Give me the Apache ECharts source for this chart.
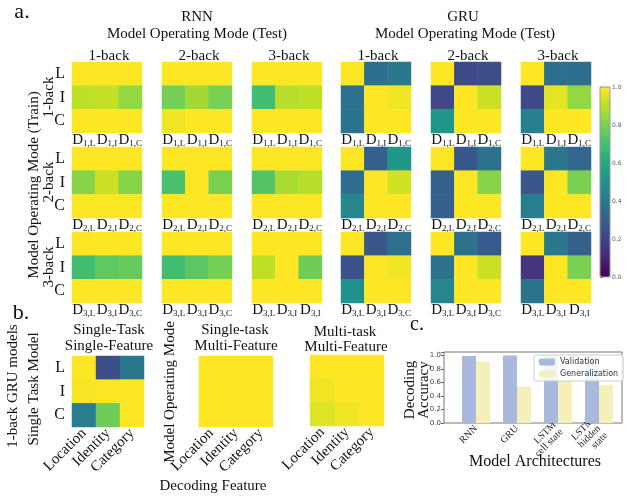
<!DOCTYPE html>
<html>
<head>
<meta charset="utf-8">
<script src="https://cdn.jsdelivr.net/npm/echarts@6/dist/echarts.min.js"></script>
<style>
    html, body { margin: 0; padding: 0; background: #fff; }
    #chart { width: 641px; height: 496px; }
</style>
</head>
<body>
<div id="chart"></div>
<script>
// row / column names
const rowNames = ['L', 'I', 'C']
const featureNames = ['Location', 'Identity', 'Category']
const modeNames = ['1-back', '2-back', '3-back']
const dTicks = [
    ['1,L', '1,I', '1,C'],
    ['2,L', '2,I', '2,C'],
    ['3,L', '3,I', '3,C']
]
const dTicks3Last = ['3,L', '3,I', '3,I'] // as printed in the figure

// RNN decoding accuracy, one list per train mode, each holds the 3 test modes (rows L, I, C)
const rnnTrain1 = [
    [[1, 1, 1], [0.9, 0.91, 0.84], [1, 1, 1]],
    [[1, 1, 1], [0.79, 0.86, 0.8], [0.98, 1, 1]],
    [[1, 1, 1], [0.69, 0.89, 0.9], [1, 1, 1]]
]
const rnnTrain2 = [
    [[1, 1, 1], [0.82, 0.92, 0.82], [1, 1, 1]],
    [[1, 1, 1], [0.71, 1, 0.8], [1, 1, 1]],
    [[1, 1, 1], [0.73, 0.87, 0.89], [1, 1, 1]]
]
const rnnTrain3 = [
    [[1, 1, 1], [0.69, 0.75, 0.76], [1, 1, 1]],
    [[1, 1, 1], [0.69, 0.74, 0.79], [1, 1, 1]],
    [[1, 1, 1], [0.9, 1, 0.78], [1, 1, 1]]
]
// GRU decoding accuracy
const gruTrain1 = [
    [[1, 0.36, 0.4], [0.37, 1, 0.98], [0.38, 1, 1]],
    [[1, 0.23, 0.24], [0.22, 1, 0.92], [0.52, 1, 1]],
    [[1, 0.36, 0.36], [0.22, 0.96, 0.84], [0.43, 1, 1]]
]
const gruTrain2 = [
    [[1, 0.3, 0.52], [0.35, 1, 0.93], [0.45, 1, 1]],
    [[1, 0.27, 0.37], [0.3, 1, 0.82], [0.3, 1, 1]],
    [[1, 0.4, 0.33], [0.27, 1, 0.8], [0.42, 1, 1]]
]
const gruTrain3 = [
    [[1, 0.27, 0.37], [0.25, 1, 0.98], [0.5, 1, 1]],
    [[1, 0.37, 0.28], [0.37, 1, 0.92], [0.45, 1, 1]],
    [[1, 0.4, 0.3], [0.15, 1, 0.8], [0.38, 1, 1]]
]
// b. 1-back GRU models
const singleTaskSingleFeature = [[1, 0.24, 0.4], [0.99, 1, 1], [0.42, 0.78, 1]]
const singleTaskMultiFeature = [[1, 1, 1], [1, 1, 1], [1, 1, 1]]
const multiTaskMultiFeature = [[1, 1, 1], [0.98, 1, 1], [0.95, 0.98, 1]]

// c. bar chart
const architectures = ['RNN', 'GRU', 'LSTM\ncell state', 'LSTM\nhidden\nstate']
const validation = [0.99, 1.0, 0.99, 0.99]
const generalization = [0.91, 0.54, 0.62, 0.56]

const viridis = ['#440154', '#482475', '#414487', '#355f8d', '#2a788e', '#21918c',
    '#22a884', '#44bf70', '#7ad151', '#bddf26', '#fde725']
const serif = '"Liberation Serif", "DejaVu Serif", serif'
const sans = '"DejaVu Sans", sans-serif'

let grids = []
let xAxes = []
let yAxes = []
let series = []
let heatIdx = []

function toCells(m) {
    let out = []
    m.forEach((row, r) => {
        row.forEach((v, c) => out.push([c, r, v]))
    })
    return out
}

function addHeatmap(m, box, xOpt, showY) {
    let gi = grids.length
    grids.push({ left: box[0], top: box[1], width: box[2], height: box[3] })
    xAxes.push(Object.assign({
        type: 'category', gridIndex: gi, z: 5,
        axisLine: { show: false }, axisTick: { show: false }, splitLine: { show: false }
    }, xOpt))
    yAxes.push({
        type: 'category', gridIndex: gi, data: rowNames, inverse: true,
        axisLine: { show: false }, axisTick: { show: false }, splitLine: { show: false },
        axisLabel: { show: showY, margin: 7, fontFamily: serif, fontSize: 16, color: '#111' }
    })
    heatIdx.push(series.length)
    series.push({
        type: 'heatmap', xAxisIndex: gi, yAxisIndex: gi,
        data: toCells(m), itemStyle: { borderWidth: 0 }, emphasis: { disabled: true }
    })
}

function dAxis(ticks) {
    return {
        data: ticks,
        axisLabel: {
            interval: 0, margin: 0, hideOverlap: false,
            formatter: v => 'D{s|' + v + '}',
            fontFamily: serif, fontSize: 15, color: '#111',
            rich: { s: { fontFamily: serif, fontSize: 9, color: '#111', padding: [6, 0, 0, 0] } }
        }
    }
}

const rnnX = [72, 162, 252]
const gruX = [341, 431, 521]
const rowY = [62, 147, 232]
const rnnAll = [rnnTrain1, rnnTrain2, rnnTrain3]
const gruAll = [gruTrain1, gruTrain2, gruTrain3]

for (let tr = 0; tr < 3; tr++) {
    for (let te = 0; te < 3; te++) {
        let ticks = (tr == 2 && te == 2) ? dTicks3Last : dTicks[tr]
        addHeatmap(rnnAll[tr][te], [rnnX[te], rowY[tr], 70, 71], dAxis(ticks), te == 0)
        addHeatmap(gruAll[tr][te], [gruX[te], rowY[tr], 70, 71], dAxis(ticks), false)
    }
}

const featAxis = {
    data: featureNames,
    axisLabel: { interval: 0, rotate: 45, margin: 4, fontFamily: serif, fontSize: 15, color: '#111' }
}
addHeatmap(singleTaskSingleFeature, [72, 356, 72, 71], featAxis, true)
addHeatmap(singleTaskMultiFeature, [199, 356, 74, 71], featAxis, false)
addHeatmap(multiTaskMultiFeature, [310, 355, 74, 71], featAxis, false)

// colorbar tick axis
let cbi = grids.length
grids.push({ left: 600, top: 87, width: 10, height: 190, show: true, borderColor: '#999', borderWidth: 1, z: 10 })
xAxes.push({ type: 'value', gridIndex: cbi, show: false })
yAxes.push({
    type: 'value', gridIndex: cbi, min: 0, max: 1, interval: 0.2, position: 'right',
    axisLine: { show: false }, splitLine: { show: false },
    axisTick: { show: true, length: 3, lineStyle: { color: '#777' } },
    axisLabel: { margin: 2, fontFamily: sans, fontSize: 6, color: '#555', formatter: v => v.toFixed(1) }
})

// bar chart frame + bar grid
let fi = grids.length
grids.push({ left: 444, top: 352, width: 178, height: 71, show: true, borderColor: '#777', borderWidth: 1 })
xAxes.push({ type: 'value', gridIndex: fi, show: false })
yAxes.push({ type: 'value', gridIndex: fi, show: false })

let bi = grids.length
grids.push({ left: 455.5, top: 352, width: 164, height: 71 })
xAxes.push({
    type: 'category', gridIndex: bi, data: architectures,
    axisLine: { show: false }, axisTick: { show: false },
    axisLabel: { interval: 0, rotate: 45, margin: 4, fontFamily: serif, fontSize: 10, lineHeight: 10, color: '#222' }
})
yAxes.push({
    type: 'value', gridIndex: bi, min: 0, max: 1.05, interval: 0.2, offset: 11.5,
    axisLine: { show: false }, splitLine: { show: false },
    axisTick: { show: true, length: 3, lineStyle: { color: '#666' } },
    axisLabel: { margin: 3, fontFamily: sans, fontSize: 7, color: '#444',
        formatter: v => v > 1.001 ? '' : v.toFixed(1) }
})
series.push({
    name: 'Validation', type: 'bar', xAxisIndex: bi, yAxisIndex: bi,
    data: validation, barWidth: 14, barGap: '0%', itemStyle: { color: '#a9b8dd' }
})
series.push({
    name: 'Generalization', type: 'bar', xAxisIndex: bi, yAxisIndex: bi,
    data: generalization, barWidth: 14, itemStyle: { color: '#f6efb9' }
})

function txt(text, x, y, size) {
    return {
        type: 'text', x: x, y: y, z: 20,
        style: {
            text: text, fontFamily: serif, fontSize: size, fill: '#111',
            textAlign: 'center', textVerticalAlign: 'middle'
        }
    }
}
function vtxt(text, x, y, size) {
    let t = txt(text, x, y, size)
    t.rotation = Math.PI / 2
    return t
}

let graphics = [
    txt('a.', 22, 12, 22),
    txt('RNN', 197, 17, 15),
    txt('Model Operating Mode (Test)', 197, 34, 15),
    txt('GRU', 463, 17, 15),
    txt('Model Operating Mode (Test)', 465, 34, 15),
    vtxt('Model Operating Mode (Train)', 34, 185, 15),
    txt('b.', 21, 313, 22),
    txt('Single-Task', 109, 330, 15),
    txt('Single-Feature', 109, 346, 15),
    txt('Single-task', 235, 330, 15),
    txt('Multi-Feature', 236, 346, 15),
    txt('Multi-task', 345, 332, 15),
    txt('Multi-Feature', 346, 347, 15),
    vtxt('1-back GRU models', 13, 386, 15),
    vtxt('Single Task Model', 34, 389, 15),
    vtxt('Model Operating Mode', 170, 392, 15),
    txt('Decoding Feature', 213, 486, 15),
    txt('c.', 417, 325, 20),
    vtxt('Decoding', 410, 390, 15),
    vtxt('Accuracy', 424, 390, 15),
    txt('Model Architectures', 535, 462, 16)
]
modeNames.forEach((m, i) => {
    graphics.push(txt(m, rnnX[i] + 37, 56, 15))
    graphics.push(txt(m, gruX[i] + 37, 56, 15))
    graphics.push(vtxt(m, 49, rowY[i] + 35, 15))
})

let option = {
    animation: false,
    backgroundColor: '#fff',
    grid: grids,
    xAxis: xAxes,
    yAxis: yAxes,
    visualMap: {
        type: 'continuous', min: 0, max: 1, seriesIndex: heatIdx,
        inRange: { color: viridis },
        show: true, calculable: false, text: ['', ''], showLabel: false,
        left: 600, top: 87, itemWidth: 10, itemHeight: 190, padding: 0
    },
    legend: {
        data: ['Validation', 'Generalization'],
        orient: 'vertical', left: 534, top: 355,
        itemWidth: 16, itemHeight: 7, itemGap: 4,
        padding: [3, 5, 3, 5],
        backgroundColor: 'rgba(255,255,255,0.85)', borderColor: '#ccc', borderWidth: 1, borderRadius: 2,
        textStyle: { fontFamily: sans, fontSize: 8, color: '#333' }
    },
    graphic: graphics,
    series: series
}

var myChart = echarts.init(document.getElementById('chart'))
myChart.setOption(option)
</script>
</body>
</html>
